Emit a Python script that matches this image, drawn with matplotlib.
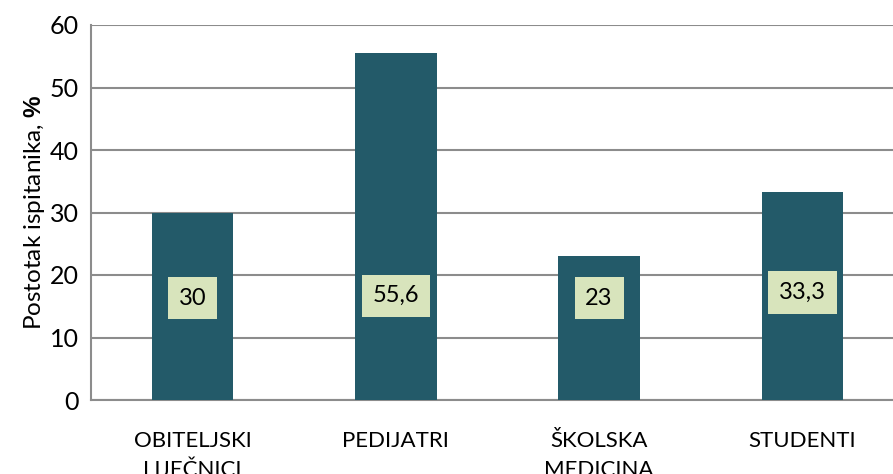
import numpy as np
import matplotlib.pyplot as plt

plt.rcParams['font.family'] = ['Lato', 'DejaVu Sans']
plt.rcParams['mathtext.fontset'] = 'custom'
plt.rcParams['mathtext.rm'] = 'Lato'
plt.rcParams['mathtext.bf'] = 'Liberation Sans:bold'

# podaci
kategorije = ["OBITELJSKI\nLIJEČNICI", "PEDIJATRI", "ŠKOLSKA\nMEDICINA", "STUDENTI"]
vrijednosti = [30, 55.6, 23, 33.3]
oznake = ["30", "55,6", "23", "33,3"]
oznake_y = [16.3, 16.7, 16.3, 17.2]

BAR = "#235A69"
BOX = "#D8E4BC"
GRID = "#8C8C8C"

fig = plt.figure(figsize=(8.93, 4.74), dpi=100)
ax = fig.add_axes([91/893, 74/474, 813/893, 375/474])

x = np.arange(len(kategorije))
ax.bar(x, vrijednosti, width=0.40, color=BAR, zorder=3)

for xi, t, yi in zip(x, oznake, oznake_y):
    ax.text(xi, yi, t, ha='center', va='center', fontsize=17, color='black', zorder=4,
            bbox=dict(boxstyle='square,pad=0.45', fc=BOX, ec='none'))

ax.set_xlim(-0.5, len(kategorije) - 0.5)
ax.set_ylim(0, 60)
ax.set_yticks(np.arange(0, 61, 10))
ax.set_xticks(x)
ax.set_xticklabels(kategorije, fontsize=16, linespacing=1.6)
ax.tick_params(axis='y', labelsize=18, length=0, pad=9)
ax.tick_params(axis='x', length=0, pad=22)

ax.yaxis.grid(True, color=GRID, linewidth=1.5, zorder=0)
for s in ['top', 'right']:
    ax.spines[s].set_visible(False)
for s in ['left', 'bottom']:
    ax.spines[s].set_color(GRID)
    ax.spines[s].set_linewidth(1.5)

ax.set_ylabel(r"Postotak ispitanika, $\mathbf{\%}$", fontsize=17.5, labelpad=2)

fig.savefig("out.png", dpi=100)
